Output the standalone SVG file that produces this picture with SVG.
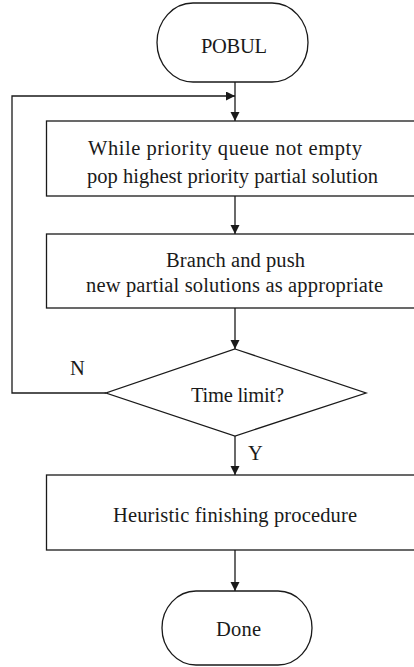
<svg xmlns="http://www.w3.org/2000/svg" width="414" height="667" viewBox="0 0 414 667">
<style>
.shape{fill:#fff;stroke:#1a1a1a;stroke-width:1.3}
.conn{fill:none;stroke:#1a1a1a;stroke-width:1.3}
text{font-family:"Liberation Serif","Times New Roman",serif;font-size:20.5px;fill:#1a1a1a}
</style>
<defs>
<marker id="ah" markerUnits="userSpaceOnUse" markerWidth="10" markerHeight="10" refX="9" refY="4.5" orient="auto">
<path d="M0,0 L9,4.5 L0,9 z" fill="#1a1a1a"/>
</marker>
</defs>
<rect width="414" height="667" fill="#fff"/>
<g id="start">
<rect class="shape" x="157" y="3" width="151" height="79" rx="36" ry="39.5"/>
<text x="201" y="53" textLength="66">POBUL</text>
</g>
<g id="pop">
<rect class="shape" x="46.5" y="121" width="400" height="75"/>
<text x="88" y="155" textLength="274">While priority queue not empty</text>
<text x="87" y="183" textLength="291">pop highest priority partial solution</text>
</g>
<g id="branch">
<rect class="shape" x="46.5" y="234" width="400" height="74"/>
<text x="166" y="267" textLength="139">Branch and push</text>
<text x="86" y="292" textLength="297">new partial solutions as appropriate</text>
</g>
<g id="timelimit">
<polygon class="shape" points="235,349 366,393 235,436 106,393"/>
<text x="191" y="402" textLength="93">Time limit?</text>
</g>
<g id="heuristic">
<rect class="shape" x="46.5" y="475" width="400" height="75"/>
<text x="113" y="522" textLength="244">Heuristic finishing procedure</text>
</g>
<g id="done">
<rect class="shape" x="162" y="591" width="150" height="74" rx="34" ry="37"/>
<text x="216" y="636" textLength="45">Done</text>
</g>
<g id="connectors">
<line class="conn" x1="235" y1="82" x2="235" y2="121" marker-end="url(#ah)"/>
<polyline class="conn" points="106,393 12,393 12,96 235,96" marker-end="url(#ah)"/>
<line class="conn" x1="235" y1="196" x2="235" y2="234" marker-end="url(#ah)"/>
<line class="conn" x1="235" y1="308" x2="235" y2="349" marker-end="url(#ah)"/>
<line class="conn" x1="235" y1="436" x2="235" y2="475" marker-end="url(#ah)"/>
<line class="conn" x1="235" y1="550" x2="235" y2="591" marker-end="url(#ah)"/>
<text x="70" y="375">N</text>
<text x="248" y="460">Y</text>
</g>
</svg>
